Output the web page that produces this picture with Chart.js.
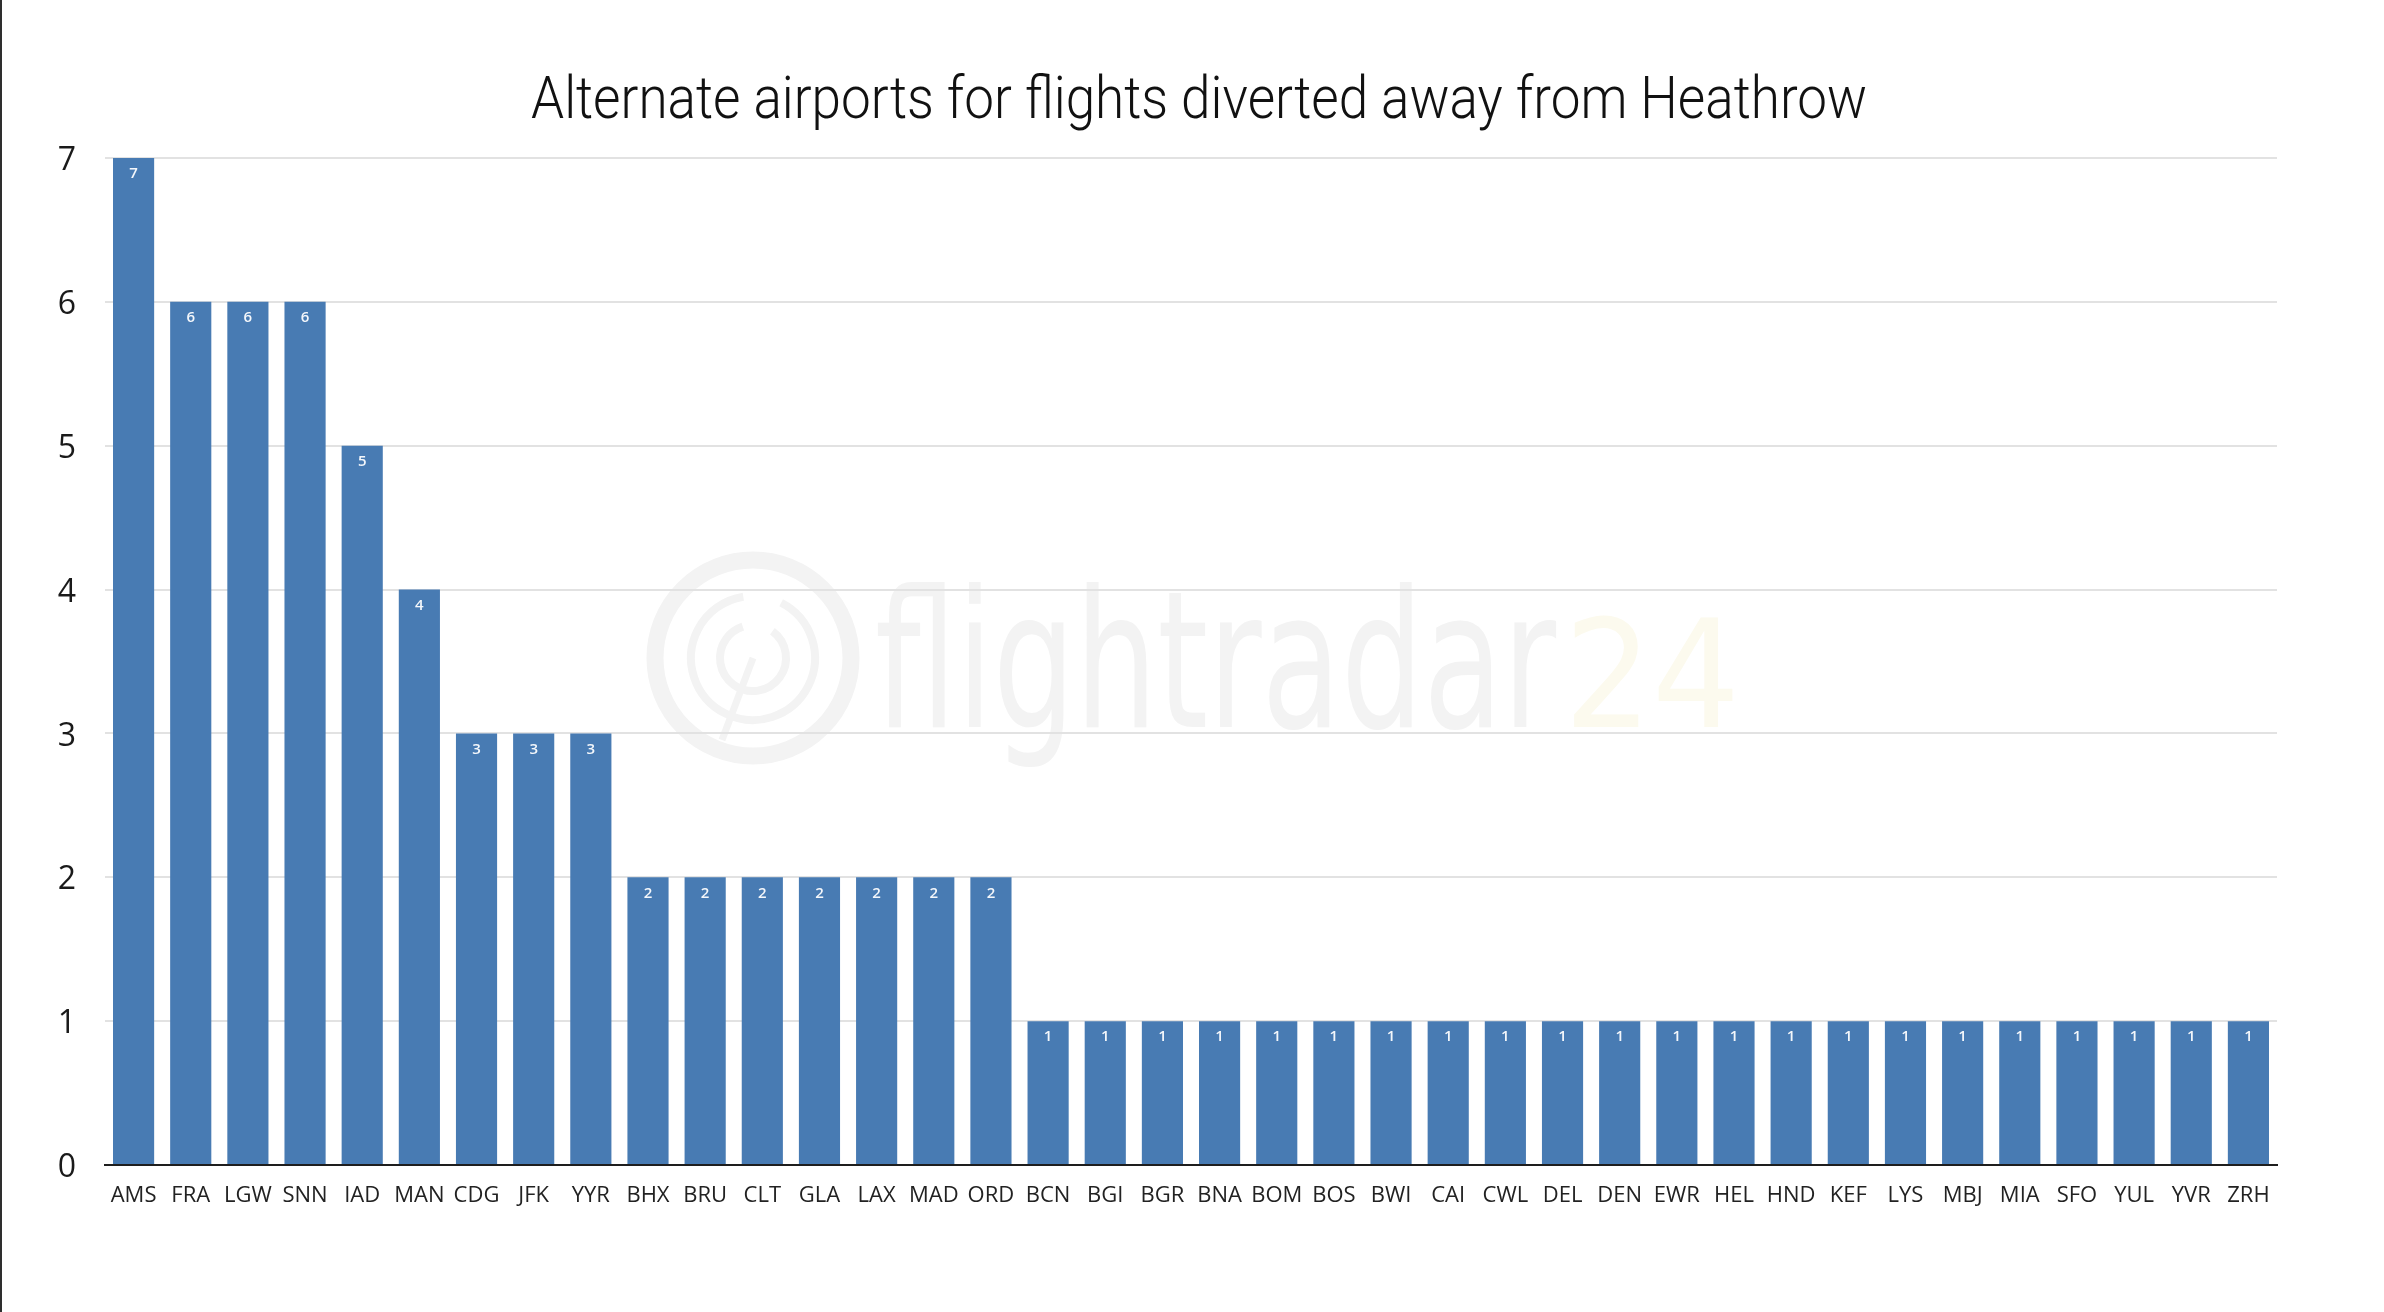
<!DOCTYPE html>
<html>
<head>
<meta charset="utf-8">
<title>Alternate airports for flights diverted away from Heathrow</title>
<script src="https://cdn.jsdelivr.net/npm/chart.js@4.4.1/dist/chart.umd.min.js"></script>
<style>
    html, body { margin: 0; padding: 0; background: #fff; }
    #wrap { position: relative; width: 2384px; height: 1312px; }
    #edge { position: absolute; left: 0; top: 0; width: 2px; height: 100%; background: #2e2e2e; }
</style>
</head>
<body>
<div id="wrap">
    <canvas id="diversions-chart" width="2384" height="1312"></canvas>
    <div id="edge"></div>
</div>
<script>
const chartTitle = 'Alternate airports for flights diverted away from Heathrow';

const airports = [
    'AMS', 'FRA', 'LGW', 'SNN', 'IAD', 'MAN', 'CDG', 'JFK', 'YYR', 'BHX',
    'BRU', 'CLT', 'GLA', 'LAX', 'MAD', 'ORD', 'BCN', 'BGI', 'BGR', 'BNA',
    'BOM', 'BOS', 'BWI', 'CAI', 'CWL', 'DEL', 'DEN', 'EWR', 'HEL', 'HND',
    'KEF', 'LYS', 'MBJ', 'MIA', 'SFO', 'YUL', 'YVR', 'ZRH'
];

const diversions = [
    7, 6, 6, 6, 5, 4, 3, 3, 3, 2,
    2, 2, 2, 2, 2, 2, 1, 1, 1, 1,
    1, 1, 1, 1, 1, 1, 1, 1, 1, 1,
    1, 1, 1, 1, 1, 1, 1, 1
];

const yTicks = [0, 1, 2, 3, 4, 5, 6, 7];

// Title drawn in a narrow light face, squeezed to the width of the original
const titlePlugin = {
    id: 'narrowTitle',
    afterDraw(chart) {
        const ctx = chart.ctx;
        ctx.save();
        ctx.font = '300 60px Roboto';
        ctx.fillStyle = '#111';
        ctx.textBaseline = 'alphabetic';
        ctx.textAlign = 'center';
        const w = ctx.measureText(chartTitle).width;
        ctx.translate(1199, 118);
        ctx.scale(1336 / w, 1);
        ctx.fillText(chartTitle, 0, 0);
        ctx.restore();
    }
};

// Faint flightradar24 watermark behind the grid
const watermarkPlugin = {
    id: 'watermark',
    beforeDraw(chart) {
        const ctx = chart.ctx;
        ctx.save();
        ctx.strokeStyle = '#f3f3f3';
        ctx.lineWidth = 17;
        ctx.beginPath();
        ctx.arc(753, 658, 98, 0, Math.PI * 2);
        ctx.stroke();
        ctx.lineWidth = 8;
        ctx.beginPath();
        ctx.arc(753, 658, 62, -Math.PI * 0.35, Math.PI * 1.45);
        ctx.stroke();
        ctx.beginPath();
        ctx.arc(753, 658, 33, -Math.PI * 0.3, Math.PI * 1.4);
        ctx.stroke();
        ctx.lineWidth = 7;
        ctx.beginPath();
        ctx.moveTo(753, 658);
        ctx.lineTo(722, 740);
        ctx.stroke();

        ctx.textBaseline = 'alphabetic';
        ctx.textAlign = 'left';
        ctx.font = '500 190px "DejaVu Sans Condensed"';
        ctx.fillStyle = '#f3f3f3';
        let txt = 'flightradar';
        let w = ctx.measureText(txt).width;
        ctx.save();
        ctx.translate(875, 727);
        ctx.scale(681 / w, 1);
        ctx.fillText(txt, 0, 0);
        ctx.restore();

        ctx.font = '150px "DejaVu Sans Condensed"';
        ctx.fillStyle = '#fcfaee';
        txt = '24';
        w = ctx.measureText(txt).width;
        ctx.translate(1564, 727);
        ctx.scale(176 / w, 1);
        ctx.fillText(txt, 0, 0);
        ctx.restore();
    }
};

// Value labels just inside the top of each bar
const barLabelsPlugin = {
    id: 'barLabels',
    afterDatasetsDraw(chart) {
        const ctx = chart.ctx;
        const meta = chart.getDatasetMeta(0);
        ctx.save();
        ctx.font = '600 15px "Open Sans"';
        ctx.fillStyle = '#f4f7fb';
        ctx.textAlign = 'center';
        ctx.textBaseline = 'middle';
        meta.data.forEach((bar, i) => {
            ctx.fillText(String(diversions[i]), bar.x, bar.y + 16);
        });
        ctx.restore();
    }
};

const ctx = document.getElementById('diversions-chart').getContext('2d');

new Chart(ctx, {
    type: 'bar',
    data: {
        labels: airports,
        datasets: [{
            label: 'Diversions',
            data: diversions,
            backgroundColor: '#487bb3',
            borderWidth: 0,
            barPercentage: 0.72,
            categoryPercentage: 1.0
        }]
    },
    options: {
        responsive: false,
        animation: false,
        devicePixelRatio: 1,
        layout: {
            padding: { left: 0, right: 107, top: 158, bottom: 0 }
        },
        scales: {
            x: {
                grid: { display: false, drawTicks: false },
                border: { display: true, color: '#1e1e1e', width: 2 },
                ticks: {
                    color: '#222',
                    font: { family: '"Open Sans"', size: 22 },
                    padding: 18,
                    maxRotation: 0,
                    autoSkip: false
                },
                afterFit(scale) { scale.height = 147; }
            },
            y: {
                min: 0,
                max: 7,
                afterBuildTicks(scale) {
                    scale.ticks = yTicks.map(v => ({ value: v }));
                },
                grid: { color: '#e2e2e2', lineWidth: 2, drawTicks: false },
                border: { display: false },
                ticks: {
                    color: '#1a1a1a',
                    font: { family: '"Open Sans"', size: 32 },
                    padding: 29,
                    labelOffset: 3
                },
                afterFit(scale) { scale.width = 105; }
            }
        },
        plugins: {
            legend: { display: false },
            title: { display: false },
            tooltip: { enabled: false }
        }
    },
    plugins: [watermarkPlugin, barLabelsPlugin, titlePlugin]
});
</script>
</body>
</html>
